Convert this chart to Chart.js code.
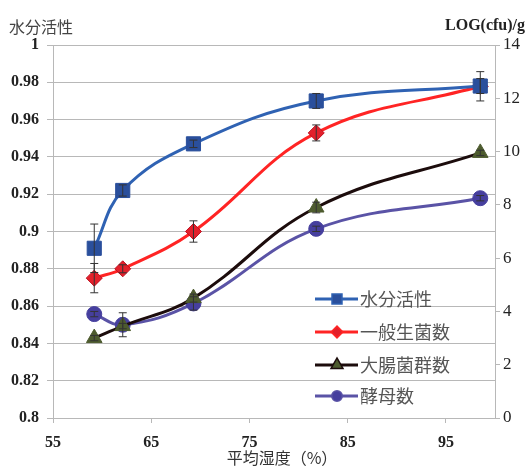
<!DOCTYPE html>
<html>
<head>
<meta charset="utf-8">
<script src="https://cdn.jsdelivr.net/npm/chart.js@4/dist/chart.umd.min.js"></script>
<style>
  html, body { margin: 0; padding: 0; background: #fff; }
  #wrap { width: 525px; height: 466px; }
</style>
</head>
<body>
<div id="wrap"><canvas id="grafico"></canvas></div>
<script>
// dados
const umidade = [59.2, 62.1, 69.3, 81.8, 98.5];
const xTicks = [55, 65, 75, 85, 95];

const atividadeAgua = [0.891, 0.922, 0.947, 0.970, 0.978];
const atividadeAguaErro = [0.013, 0.003, 0.002, 0.004, 0.004];

const bacteriasTotais = [5.25, 5.6, 7.0, 10.7, 12.45];
const bacteriasTotaisErro = [0.55, 0.15, 0.4, 0.3, 0.55];

const coliformes = [3.0, 3.45, 4.5, 7.9, 9.95];
const coliformesErro = [0.1, 0.1, 0.15, 0.2, 0.1];

const leveduras = [3.9, 3.5, 4.3, 7.1, 8.25];
const leveduraErro = [0.1, 0.45, 0.25, 0.1, 0.1];

const nomesSeries = ['水分活性', '一般生菌数', '大腸菌群数', '酵母数'];

const fonteNum = '"Liberation Serif", "DejaVu Serif", serif';
const fonteCJK = '"Noto Sans CJK JP", "Noto Sans CJK SC", sans-serif';

function montarPontos(vals) {
    return umidade.map((x, i) => ({ x: x, y: vals[i] }));
}

const pluginErro = {
    id: 'barrasErro',
    afterDatasetsDraw(chart) {
        const ctx = chart.ctx;
        chart.data.datasets.forEach((ds, i) => {
            if (!ds.erros) return;
            const sx = chart.scales.x;
            const sy = chart.scales[ds.yAxisID];
            ctx.save();
            ctx.strokeStyle = '#333';
            ctx.lineWidth = 1;
            ds.data.forEach((p, j) => {
                const e = ds.erros[j];
                if (!e) return;
                const px = sx.getPixelForValue(p.x);
                const y1 = sy.getPixelForValue(p.y + e);
                const y2 = sy.getPixelForValue(p.y - e);
                ctx.beginPath();
                ctx.moveTo(px, y1); ctx.lineTo(px, y2);
                ctx.moveTo(px - 4, y1); ctx.lineTo(px + 4, y1);
                ctx.moveTo(px - 4, y2); ctx.lineTo(px + 4, y2);
                ctx.stroke();
            });
            ctx.restore();
        });
    }
};

const pluginTextos = {
    id: 'textos',
    afterDraw(chart) {
        const ctx = chart.ctx;
        ctx.save();
        ctx.fillStyle = '#444';
        ctx.textBaseline = 'middle';
        ctx.font = '16px ' + fonteCJK;
        ctx.textAlign = 'left';
        ctx.fillText('水分活性', 9, 27);
        ctx.fillStyle = '#222';
        ctx.font = 'bold 16px ' + fonteNum;
        ctx.textAlign = 'right';
        ctx.fillText('LOG(cfu)/g', 525, 26);
        ctx.fillStyle = '#333';
        ctx.font = '16px ' + fonteCJK;
        ctx.textAlign = 'center';
        ctx.fillText('平均湿度（%）', 282, 458);

        // legenda dentro da area do grafico
        const linhas = [299, 332, 365, 396];
        chart.data.datasets.forEach((ds, i) => {
            const y = linhas[i];
            ctx.strokeStyle = ds.borderColor;
            ctx.lineWidth = 3;
            ctx.beginPath();
            ctx.moveTo(315, y); ctx.lineTo(358, y);
            ctx.stroke();
            Chart.helpers.drawPoint(ctx, {
                pointStyle: ds.pointStyle, radius: ds.pointRadius * 0.6,
                borderWidth: 1, rotation: 0
            }, 337, y);
            ctx.fillStyle = ds.pointBackgroundColor;
            ctx.fill();
            ctx.fillStyle = '#555';
            ctx.font = '18px ' + fonteCJK;
            ctx.textAlign = 'left';
            ctx.fillText(ds.label, 360, y);
        });
        ctx.restore();
    }
};

const grade = '#b8b8b8';

new Chart(document.getElementById('grafico'), {
    type: 'line',
    data: {
        datasets: [
            { label: nomesSeries[0], data: montarPontos(atividadeAgua), erros: atividadeAguaErro, yAxisID: 'y',
              borderColor: '#2f62b3', pointBackgroundColor: '#2a4f9c', pointBorderColor: '#2a4f9c',
              pointStyle: 'rect', pointRadius: 10 },
            { label: nomesSeries[1], data: montarPontos(bacteriasTotais), erros: bacteriasTotaisErro, yAxisID: 'y2',
              borderColor: '#ff2424', pointBackgroundColor: '#e3202b', pointBorderColor: '#c01020',
              pointStyle: 'rectRot', pointRadius: 8 },
            { label: nomesSeries[2], data: montarPontos(coliformes), erros: coliformesErro, yAxisID: 'y2',
              borderColor: '#1c0c0c', pointBackgroundColor: '#4d5b2e', pointBorderColor: '#4d5b2e',
              pointStyle: 'triangle', pointRadius: 9 },
            { label: nomesSeries[3], data: montarPontos(leveduras), erros: leveduraErro, yAxisID: 'y2',
              borderColor: '#5a53a6', pointBackgroundColor: '#463f9e', pointBorderColor: '#463f9e',
              pointStyle: 'circle', pointRadius: 7.5 }
        ]
    },
    options: {
        responsive: true, maintainAspectRatio: false, animation: false,
        layout: { padding: { top: 45, left: 0, right: 0, bottom: 0 } },
        elements: { line: { borderWidth: 3, tension: 0.4, fill: false } },
        plugins: { legend: { display: false }, tooltip: { enabled: false } },
        scales: {
            x: {
                type: 'linear', min: 55, max: 100,
                afterBuildTicks: (s) => { s.ticks = xTicks.map(v => ({ value: v })); },
                afterFit: (s) => { s.height = 48; },
                grid: { drawOnChartArea: false, drawTicks: true, tickLength: 5, color: grade },
                border: { color: grade },
                ticks: { color: '#222', font: { family: fonteNum, size: 16, weight: 'bold' }, padding: 10, maxRotation: 0 }
            },
            y: {
                position: 'left', min: 0.8, max: 1,
                afterFit: (s) => { s.width = 53; },
                grid: { color: grade, tickLength: 6 },
                border: { color: grade },
                ticks: { stepSize: 0.02, color: '#222', font: { family: fonteNum, size: 16, weight: 'bold' }, padding: 8,
                         callback: (v) => String(Number(v.toFixed(2))) }
            },
            y2: {
                position: 'right', min: 0, max: 14,
                afterFit: (s) => { s.width = 30; },
                grid: { drawOnChartArea: false, color: grade, tickLength: 5 },
                border: { color: grade },
                ticks: { stepSize: 2, color: '#222', font: { family: fonteNum, size: 17 }, padding: 3 }
            }
        }
    },
    plugins: [pluginErro, pluginTextos]
});
</script>
</body>
</html>
